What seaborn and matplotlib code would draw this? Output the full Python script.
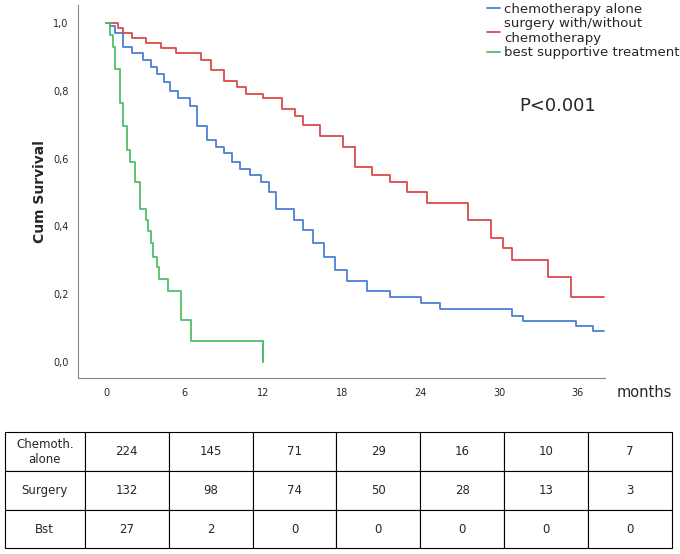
import matplotlib
matplotlib.use("Agg")
import matplotlib.pyplot as plt
import seaborn as sns
import pandas as pd

# survival step points (months, cum survival)
chemo_t = [0, 0.3, 0.7, 1.3, 2.0, 2.8, 3.4, 3.9, 4.4, 4.9, 5.5, 6.4, 6.9, 7.7, 8.4, 9.0, 9.6, 10.2,
           11.0, 11.8, 12.4, 13.0, 13.6, 14.3, 15.0, 15.8, 16.6, 17.5, 18.4, 19.9, 21.7, 24.0, 25.5,
           31.0, 31.8, 35.9, 37.2, 38.0]
chemo_s = [1.0, 0.99, 0.97, 0.93, 0.91, 0.89, 0.87, 0.85, 0.825, 0.80, 0.78, 0.755, 0.695, 0.655,
           0.635, 0.615, 0.59, 0.57, 0.55, 0.53, 0.50, 0.45, 0.45, 0.42, 0.39, 0.35, 0.31, 0.27,
           0.24, 0.21, 0.19, 0.175, 0.155, 0.135, 0.12, 0.105, 0.09, 0.09]
surg_t = [0, 0.9, 1.3, 2.0, 3.0, 4.2, 5.3, 7.2, 8.0, 9.0, 10.0, 10.7, 12.0, 13.4, 14.4, 15.0, 16.3,
          18.1, 19.0, 20.3, 21.7, 23.0, 24.5, 27.6, 29.4, 30.3, 31.0, 33.7, 35.5, 38.0]
surg_s = [1.0, 0.985, 0.97, 0.955, 0.94, 0.925, 0.91, 0.89, 0.86, 0.83, 0.81, 0.79, 0.78, 0.745,
          0.725, 0.70, 0.665, 0.635, 0.575, 0.55, 0.53, 0.50, 0.47, 0.42, 0.365, 0.335, 0.30, 0.25,
          0.19, 0.19]
bst_t = [0, 0.3, 0.5, 0.7, 1.07, 1.3, 1.6, 1.8, 2.2, 2.55, 3.0, 3.2, 3.4, 3.6, 3.9, 4.0, 4.7, 5.7,
         6.5, 12.0]
bst_s = [1.0, 0.965, 0.93, 0.865, 0.765, 0.695, 0.625, 0.59, 0.53, 0.45, 0.42, 0.385, 0.35, 0.31,
         0.28, 0.245, 0.21, 0.125, 0.063, 0.0]

groups = ["chemotherapy alone", "surgery with/without\nchemotherapy", "best supportive treatment"]
colors = ["#4a7fd6", "#dc4a4a", "#4fbf6a"]
xticks = [0, 6, 12, 18, 24, 30, 36]
yticks = [0.0, 0.2, 0.4, 0.6, 0.8, 1.0]

row_labels = ["Chemoth.\nalone", "Surgery", "Bst"]
at_risk_chemo = [224, 145, 71, 29, 16, 10, 7]
at_risk_surg = [132, 98, 74, 50, 28, 13, 3]
at_risk_bst = [27, 2, 0, 0, 0, 0, 0]

df = pd.concat([
    pd.DataFrame({"t": chemo_t, "s": chemo_s, "g": groups[0]}),
    pd.DataFrame({"t": surg_t, "s": surg_s, "g": groups[1]}),
    pd.DataFrame({"t": bst_t, "s": bst_s, "g": groups[2]}),
])

sns.set_style("white")
fig = plt.figure(figsize=(6.8, 5.54), dpi=100)
ax = fig.add_axes([0.115, 0.318, 0.775, 0.673])
sns.lineplot(data=df, x="t", y="s", hue="g", palette=colors, drawstyle="steps-post",
             estimator=None, sort=False, lw=1.3, ax=ax, legend=True)
# vertical drop at end of Bst curve
ax.plot([bst_t[-1], bst_t[-1]], [bst_s[-2], bst_s[-1]], color=colors[2], lw=1.3)
ax.set_xlim(-2.14, 38.1)
ax.set_ylim(-0.047, 1.053)
ax.set_xticks(xticks)
ax.set_xticklabels([str(x) for x in xticks], fontsize=7)
ax.set_yticks(yticks)
ax.set_yticklabels([f"{y:.1f}".replace(".", ",") for y in yticks], fontsize=7)
ax.set_xlabel("")
ax.set_ylabel("Cum Survival", fontsize=10, fontweight="bold")
for side in ["top", "right"]:
    ax.spines[side].set_visible(False)
ax.spines["left"].set_color("#888888")
ax.spines["bottom"].set_color("#888888")
ax.text(39.0, -0.09, "months", fontsize=10.5, ha="left", va="center", clip_on=False)
ax.text(34.5, 0.74, "P<0.001", fontsize=13, ha="center")
ax.legend(loc="upper left", bbox_to_anchor=(0.765, 1.02), frameon=False, fontsize=9.5,
          handlelength=1.0, handletextpad=0.3, labelspacing=0.1, borderaxespad=0)

# at-risk table
tax = fig.add_axes([0.007, 0.01, 0.981, 0.21])
tax.axis("off")
cells = [[row_labels[0]] + [str(v) for v in at_risk_chemo],
         [row_labels[1]] + [str(v) for v in at_risk_surg],
         [row_labels[2]] + [str(v) for v in at_risk_bst]]
tab = tax.table(cellText=cells, cellLoc="center", bbox=[0, 0, 1, 1],
                colWidths=[0.12] + [0.88 / 7] * 7)
tab.auto_set_font_size(False)
tab.set_fontsize(8.5)
for c in tab.get_celld().values():
    c.set_linewidth(0.8)

fig.savefig("out.png", dpi=100)
